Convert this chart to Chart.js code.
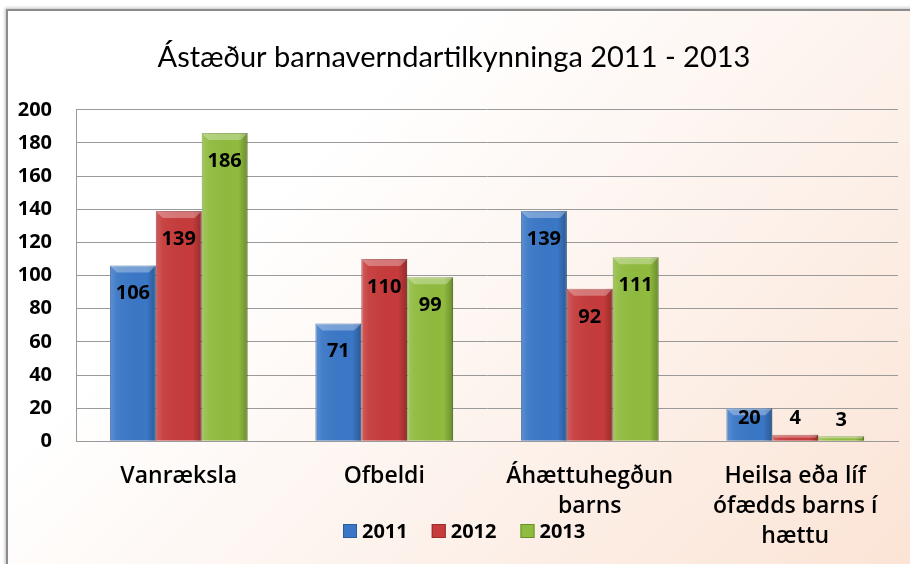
<!DOCTYPE html>
<html>
<head>
<meta charset="utf-8">
<script src="https://cdn.jsdelivr.net/npm/chart.js@4"></script>
<style>
    body { margin: 0; width: 910px; height: 564px; background: #ffffff; overflow: hidden; position: relative; }
    .frame {
        position: absolute; left: 6px; top: 9px; width: 920px; height: 570px;
        border-left: 2px solid #8c8c8c; border-top: 2px solid #8c8c8c;
        background: linear-gradient(135deg, #ffffff 30%, #fdf3ed 60%, #fbe3d4 100%);
        box-shadow: -1px -1px 3px rgba(0,0,0,0.25);
    }
    #chart { position: absolute; left: 0; top: 0; }
</style>
</head>
<body>
<div class="frame"></div>
<canvas id="chart" width="910" height="564"></canvas>
<script>
const categories = ['Vanræksla', 'Ofbeldi', ['Áhættuhegðun', 'barns'], ['Heilsa eða líf', 'ófædds barns í', 'hættu']];
const years = ['2011', '2012', '2013'];
const values2011 = [106, 71, 139, 20];
const values2012 = [139, 110, 92, 4];
const values2013 = [186, 99, 111, 3];
const yTicks = [0, 20, 40, 60, 80, 100, 120, 140, 160, 180, 200];

const colors = ['#3a77c6', '#c63b3b', '#8fbb3e'];
const borders = ['#2b5c9c', '#9a2c2c', '#6c9028'];

// bevel look on each bar, drawn over the bar elements
const bevelPlugin = {
    id: 'bevel',
    afterDatasetsDraw(chart) {
        const ctx = chart.ctx;
        chart.data.datasets.forEach((ds, di) => {
            chart.getDatasetMeta(di).data.forEach(bar => {
                const left = bar.x - bar.width / 2;
                const top = bar.y;
                const h = bar.base - bar.y;
                const w = bar.width;
                if (h <= 0) return;
                ctx.save();
                const g = ctx.createLinearGradient(left, 0, left + w, 0);
                g.addColorStop(0, 'rgba(255,255,255,0.18)');
                g.addColorStop(0.15, 'rgba(255,255,255,0.05)');
                g.addColorStop(0.8, 'rgba(0,0,0,0)');
                g.addColorStop(1, 'rgba(0,0,0,0.25)');
                ctx.fillStyle = g;
                ctx.fillRect(left, top, w, h);
                const b = Math.min(7, h / 2);
                ctx.fillStyle = 'rgba(255,255,255,0.3)';
                ctx.beginPath();
                ctx.moveTo(left, top);
                ctx.lineTo(left + w, top);
                ctx.lineTo(left + w - b, top + b);
                ctx.lineTo(left + b, top + b);
                ctx.closePath();
                ctx.fill();
                ctx.restore();
            });
        });
    }
};

const valueLabels = {
    id: 'valueLabels',
    afterDatasetsDraw(chart) {
        const ctx = chart.ctx;
        ctx.save();
        ctx.font = 'bold 20px "Open Sans"';
        ctx.fillStyle = '#000';
        ctx.textAlign = 'center';
        ctx.textBaseline = 'middle';
        chart.data.datasets.forEach((ds, di) => {
            chart.getDatasetMeta(di).data.forEach((bar, i) => {
                const h = bar.base - bar.y;
                let y;
                if (h >= 60) y = bar.y + 28;
                else if (h >= 20) y = bar.y + 10;
                else y = bar.y - 16;
                ctx.fillText(ds.data[i], bar.x, y);
            });
        });
        ctx.restore();
    }
};

const legendPlugin = {
    id: 'bottomLegend',
    afterDraw(chart) {
        const ctx = chart.ctx;
        ctx.save();
        ctx.font = 'bold 20px "Open Sans"';
        ctx.textBaseline = 'middle';
        let x = 343;
        const y = 531;
        chart.data.datasets.forEach((ds, di) => {
            ctx.fillStyle = colors[di];
            ctx.fillRect(x, y - 7, 14, 14);
            ctx.strokeStyle = borders[di];
            ctx.strokeRect(x + 0.5, y - 6.5, 13, 13);
            ctx.fillStyle = '#000';
            ctx.fillText(ds.label, x + 19, y + 1);
            x += 19 + ctx.measureText(ds.label).width + 24;
        });
        ctx.restore();
    }
};

new Chart(document.getElementById('chart'), {
    type: 'bar',
    data: {
        labels: categories,
        datasets: [
            { label: years[0], data: values2011, backgroundColor: colors[0], borderColor: borders[0], borderWidth: 1 },
            { label: years[1], data: values2012, backgroundColor: colors[1], borderColor: borders[1], borderWidth: 1 },
            { label: years[2], data: values2013, backgroundColor: colors[2], borderColor: borders[2], borderWidth: 1 }
        ]
    },
    options: {
        responsive: false,
        animation: false,
        categoryPercentage: 0.67,
        barPercentage: 1.0,
        layout: { padding: { left: 10, right: 12, top: 0, bottom: 1 } },
        plugins: {
            legend: { display: false },
            tooltip: { enabled: false },
            title: {
                display: true,
                text: 'Ástæður barnaverndartilkynninga 2011 - 2013',
                color: '#000',
                font: { family: 'Lato', size: 29, weight: 'normal' },
                padding: { top: 40, bottom: 35 }
            }
        },
        scales: {
            x: {
                grid: { display: false },
                border: { color: '#999' },
                ticks: {
                    color: '#000',
                    font: { family: 'Open Sans', size: 23, weight: '600', lineHeight: 1.3 },
                    maxRotation: 0,
                    padding: 12
                }
            },
            y: {
                min: 0,
                max: 200,
                afterBuildTicks: axis => { axis.ticks = yTicks.map(v => ({ value: v })); },
                afterFit: axis => { axis.width = 66; },
                grid: { color: '#9a9a9a', drawTicks: false },
                border: { color: '#9a9a9a' },
                ticks: {
                    color: '#000',
                    font: { family: 'Open Sans', size: 20, weight: 'bold' },
                    padding: 24
                }
            }
        }
    },
    plugins: [bevelPlugin, valueLabels, legendPlugin]
});
</script>
</body>
</html>
